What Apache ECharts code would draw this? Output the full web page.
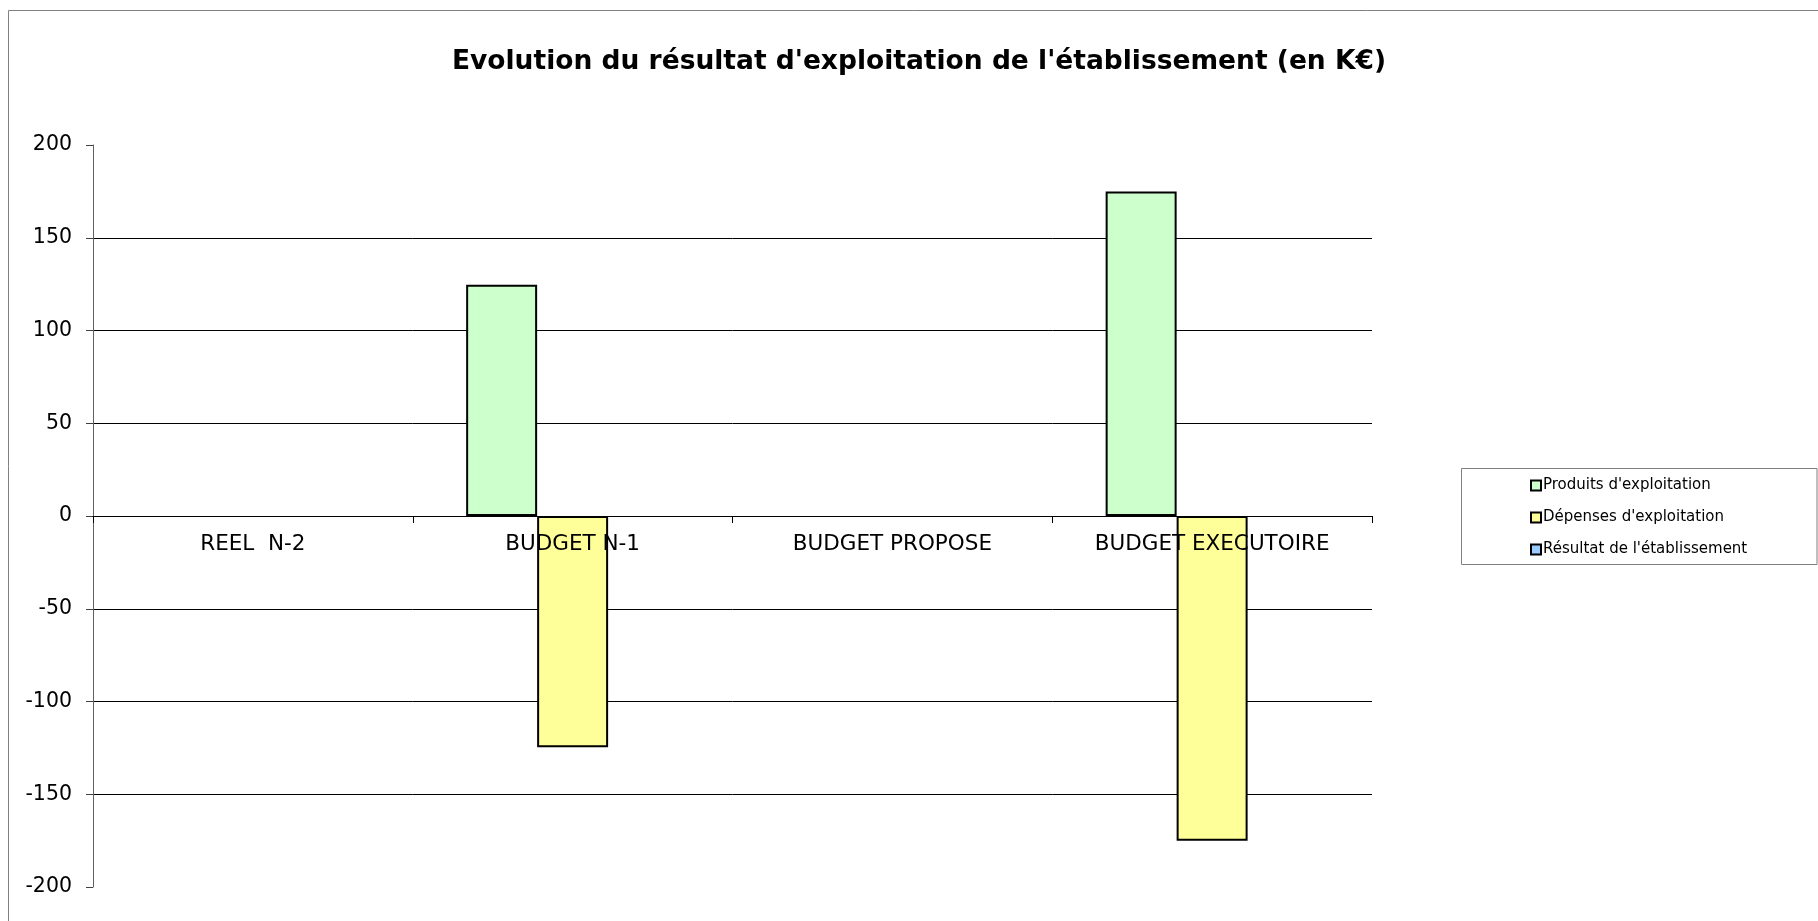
<!DOCTYPE html>
<html>
<head>
<meta charset="utf-8">
<script src="https://cdn.jsdelivr.net/npm/echarts@6/dist/echarts.min.js"></script>
<style>
  html, body { margin: 0; padding: 0; background: #fff; }
  #main { width: 1818px; height: 921px; }
</style>
</head>
<body>
<div id="main"></div>
<script>
// données du graphique
var categories = ['REEL  N-2', 'BUDGET N-1', 'BUDGET PROPOSE', 'BUDGET EXECUTOIRE'];
var produits = [null, 124.6, null, 175];
var depenses = [null, -124.6, null, -175];
var resultat = [null, null, null, null];
var seriesNames = ["Produits d'exploitation", "Dépenses d'exploitation", "Résultat de l'établissement"];
var titre = "Evolution du résultat d'exploitation de l'établissement (en K€)";

var chart = echarts.init(document.getElementById('main'));
var font = 'DejaVu Sans, Verdana, sans-serif';

var option = {
  animation: false,
  graphic: [
    // cadre du graphique
    { type: 'rect', shape: { x: 8.5, y: 10.5, width: 1830, height: 930 },
      style: { fill: 'none', stroke: '#808080', lineWidth: 1 }, silent: true },
    // cadre de la légende
    { type: 'rect', shape: { x: 1461.5, y: 468.5, width: 355.5, height: 96 },
      style: { fill: 'none', stroke: '#808080', lineWidth: 1 }, silent: true },
    // titre
    { type: 'text', x: 919, y: 62,
      style: { text: titre, align: 'center', verticalAlign: 'middle',
               font: 'bold 26.5px DejaVu Sans, Verdana, sans-serif', fill: '#000' } }
  ],
  legend: {
    orient: 'vertical',
    left: 1525,
    top: 473,
    itemWidth: 10,
    itemHeight: 10,
    itemGap: 17,
    icon: 'rect',
    itemStyle: { borderColor: '#000', borderWidth: 2 },
    textStyle: { fontFamily: font, fontSize: 15, color: '#000', padding: [0, 0, 0, -3] },
    data: seriesNames
  },
  grid: { left: 93, right: 446, top: 145, bottom: 34, containLabel: false },
  xAxis: {
    type: 'category',
    data: categories,
    offset: -371,
    axisLine: { onZero: false, lineStyle: { color: '#000', width: 1 } },
    axisTick: { show: true, length: 7, lineStyle: { color: '#000' } },
    axisLabel: { fontFamily: font, fontSize: 21.5, color: '#000', margin: 17, interval: 0 },
    z: 10
  },
  yAxis: {
    type: 'value',
    min: -200,
    max: 200,
    interval: 50,
    axisLine: { show: true, lineStyle: { color: '#606060', width: 1 } },
    axisTick: { show: true, length: 7, lineStyle: { color: '#404040' } },
    axisLabel: { fontFamily: font, fontSize: 20.5, color: '#000', margin: 21 },
    splitLine: { show: true, showMinLine: false, showMaxLine: false, lineStyle: { color: '#000', width: 1 } }
  },
  series: [
    { name: seriesNames[0], type: 'bar', data: produits, barGap: '0%', barCategoryGap: '33.4%',
      itemStyle: { color: '#CCFFCC', borderColor: '#000', borderWidth: 2 } },
    { name: seriesNames[1], type: 'bar', data: depenses, barGap: '0%', barCategoryGap: '33.4%',
      itemStyle: { color: '#FFFF99', borderColor: '#000', borderWidth: 2 } },
    { name: seriesNames[2], type: 'bar', data: resultat, barGap: '0%', barCategoryGap: '33.4%',
      itemStyle: { color: '#99CCFF', borderColor: '#000', borderWidth: 2 } }
  ]
};

chart.setOption(option);
</script>
</body>
</html>
